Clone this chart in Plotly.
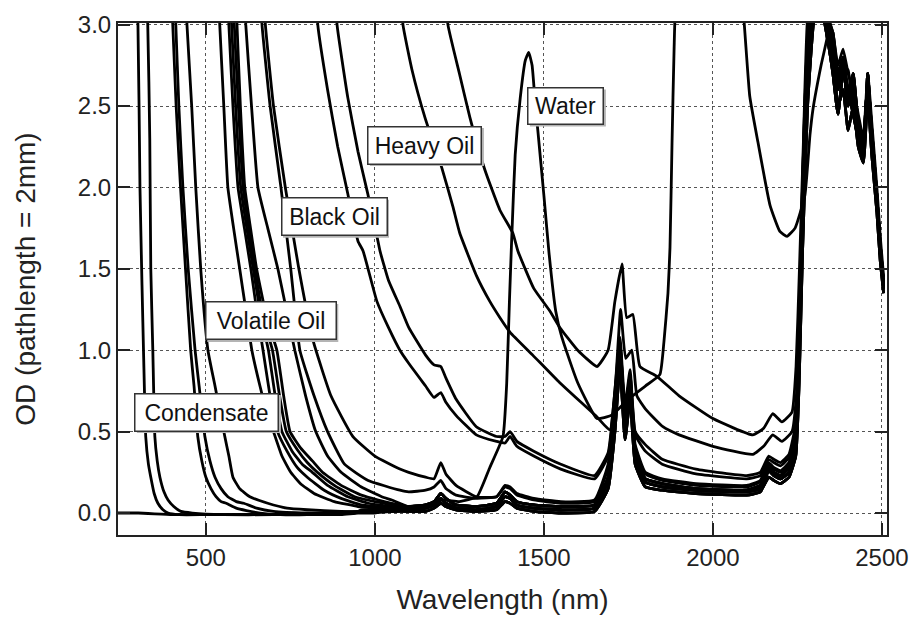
import plotly.graph_objects as go

# ---- spectra: wavelength (nm) and optical density (2 mm path) ----
# shared wavelength grid for the long-wavelength part of the light/medium oils
TAIL_WL = [1100, 1150, 1175, 1195, 1210, 1240, 1300, 1360, 1385, 1400,
           1420, 1470, 1550, 1650, 1690, 1710, 1725, 1740, 1755, 1770,
           1800, 1850, 1950, 2100, 2140, 2165, 2180, 2200, 2225, 2245,
           2255, 2265, 2280, 2300, 2320, 2340, 2355, 2370, 2385, 2400,
           2415, 2430, 2445, 2458, 2470, 2485, 2495, 2505]

LOW_A = [0.01, 0.01, 0.03, 0.06, 0.04, 0.02, 0.01, 0.02, 0.07, 0.06,
         0.03, 0.01, 0.0, 0.01, 0.15, 0.5, 0.9, 0.45, 0.7, 0.3,
         0.16, 0.14, 0.12, 0.11, 0.13, 0.22, 0.2, 0.18, 0.22, 0.35,
         0.8, 1.6, 2.5, 3.05, 3.15, 2.95, 2.8, 2.5, 2.6, 2.35,
         2.5, 2.25, 2.15, 2.55, 2.2, 1.85, 1.55, 1.35]
LOW_B = [0.02, 0.03, 0.05, 0.09, 0.06, 0.03, 0.02, 0.04, 0.10, 0.09,
         0.05, 0.03, 0.02, 0.03, 0.2, 0.6, 1.0, 0.5, 0.78, 0.35,
         0.19, 0.16, 0.14, 0.13, 0.15, 0.26, 0.23, 0.21, 0.25, 0.4,
         0.95, 1.8, 2.7, 3.1, 3.2, 3.05, 2.9, 2.6, 2.75, 2.5,
         2.7, 2.4, 2.3, 2.65, 2.35, 1.95, 1.65, 1.4]
LOW_C = [0.04, 0.05, 0.07, 0.12, 0.09, 0.05, 0.04, 0.06, 0.13, 0.11,
         0.07, 0.05, 0.04, 0.05, 0.22, 0.62, 1.02, 0.55, 0.8, 0.38,
         0.21, 0.18, 0.15, 0.14, 0.17, 0.28, 0.25, 0.23, 0.28, 0.45,
         1.0, 1.9, 2.8, 3.1, 3.1, 2.9, 2.7, 2.45, 2.7, 2.6,
         2.45, 2.3, 2.2, 2.7, 2.3, 1.9, 1.6, 1.38]
TAIL_V7 = [0.13, 0.14, 0.16, 0.2, 0.15, 0.11, 0.09, 0.1, 0.16, 0.15,
           0.11, 0.08, 0.06, 0.07, 0.28, 0.7, 1.05, 0.58, 0.82, 0.4,
           0.24, 0.2, 0.17, 0.16, 0.19, 0.3, 0.27, 0.25, 0.3, 0.48,
           1.05, 1.95, 2.85, 3.15, 3.25, 3.05, 2.95, 2.7, 2.8, 2.55,
           2.65, 2.4, 2.3, 2.6, 2.3, 1.95, 1.6, 1.4]
TAIL_V8 = [0.25, 0.22, 0.21, 0.31, 0.24, 0.17, 0.1, 0.1, 0.17, 0.16,
           0.12, 0.09, 0.07, 0.08, 0.3, 0.72, 1.05, 0.6, 0.85, 0.42,
           0.25, 0.21, 0.18, 0.17, 0.2, 0.31, 0.28, 0.26, 0.31, 0.5,
           1.1, 2.0, 2.9, 3.2, 3.2, 3.0, 2.85, 2.65, 2.75, 2.5,
           2.6, 2.35, 2.25, 2.65, 2.25, 1.9, 1.6, 1.38]
TAIL_B1 = [0.92, 0.78, 0.71, 0.74, 0.68, 0.6, 0.48, 0.44, 0.43, 0.47,
           0.41, 0.35, 0.27, 0.21, 0.35, 0.72, 1.02, 0.62, 0.85, 0.48,
           0.38, 0.3, 0.24, 0.21, 0.23, 0.33, 0.31, 0.29, 0.34, 0.52,
           1.05, 1.95, 2.85, 3.15, 3.2, 3.05, 2.9, 2.65, 2.75, 2.72,
           2.45, 2.35, 2.2, 2.68, 2.35, 1.95, 1.65, 1.4]
TAIL_B2 = [1.14, 0.97, 0.91, 0.9, 0.83, 0.7, 0.53, 0.47, 0.47, 0.5,
           0.44, 0.38, 0.3, 0.23, 0.37, 0.75, 1.08, 0.66, 0.88, 0.5,
           0.42, 0.33, 0.27, 0.23, 0.25, 0.35, 0.33, 0.31, 0.36, 0.55,
           1.1, 2.0, 2.9, 3.2, 3.25, 3.0, 2.95, 2.7, 2.8, 2.6,
           2.55, 2.4, 2.25, 2.6, 2.3, 1.9, 1.6, 1.38]

# short-wavelength (absorption edge) parts
C1_WL = [290, 299, 305, 311, 316, 322, 330, 337, 347, 358, 373, 388, 420, 500, 600, 700, 800, 900, 950, 1000, 1050]
C1_OD = [3.3, 3.0, 2.0, 1.4, 0.95, 0.47, 0.3, 0.22, 0.12, 0.06, 0.02, 0.0, -0.01, -0.01, -0.01, -0.01, -0.01, -0.01, 0.0, 0.0, 0.01]
C2_WL = [320, 328, 334, 337, 343, 349, 356, 364, 376, 388, 405, 426, 460, 550, 700, 850, 950, 1000, 1050]
C2_OD = [3.3, 3.0, 2.3, 1.5, 1.0, 0.47, 0.32, 0.22, 0.13, 0.08, 0.04, 0.01, 0.0, -0.01, -0.01, 0.0, 0.01, 0.01, 0.01]
C3_WL = [395, 402, 412, 425, 440, 455, 465, 476, 488, 500, 515, 530, 545, 560, 590, 620, 660, 720, 800, 900, 1000, 1050]
C3_OD = [3.3, 3.0, 2.5, 2.0, 1.49, 1.0, 0.78, 0.47, 0.32, 0.22, 0.15, 0.10, 0.07, 0.06, 0.03, 0.015, 0.0, -0.01, -0.01, 0.0, 0.01, 0.01]
C4_WL = [405, 411, 420, 432, 448, 468, 480, 497, 512, 527, 545, 565, 590, 612, 650, 700, 800, 900, 1000, 1050]
C4_OD = [3.3, 3.0, 2.5, 2.0, 1.49, 1.0, 0.78, 0.47, 0.32, 0.22, 0.15, 0.10, 0.07, 0.06, 0.03, 0.01, 0.0, 0.0, 0.01, 0.01]
C5_WL = [438, 444, 458, 470, 485, 506, 527, 556, 568, 580, 600, 630, 683, 740, 800, 900, 1000, 1050]
C5_OD = [3.3, 3.0, 2.5, 2.0, 1.49, 1.0, 0.78, 0.47, 0.35, 0.22, 0.15, 0.10, 0.06, 0.03, 0.02, 0.01, 0.01, 0.02]
V1_WL = [535, 541, 553, 565, 582, 600, 618, 636, 660, 680, 700, 725, 751, 780, 820, 880, 950, 1000, 1050]
V1_OD = [3.3, 3.0, 2.5, 2.0, 1.75, 1.5, 1.25, 1.0, 0.78, 0.62, 0.5, 0.35, 0.25, 0.18, 0.12, 0.07, 0.04, 0.03, 0.02]
V2_WL = [562, 568, 580, 595, 614, 633, 650, 669, 690, 712, 740, 770, 800, 850, 900, 960, 1000, 1050]
V2_OD = [3.3, 3.0, 2.5, 2.0, 1.75, 1.5, 1.25, 1.0, 0.72, 0.5, 0.38, 0.28, 0.22, 0.14, 0.09, 0.05, 0.04, 0.03]
V3_WL = [570, 576, 588, 603, 621, 640, 662, 685, 705, 725, 755, 785, 815, 860, 920, 980, 1050]
V3_OD = [3.3, 3.0, 2.5, 2.0, 1.75, 1.5, 1.22, 1.0, 0.72, 0.5, 0.38, 0.3, 0.25, 0.17, 0.1, 0.06, 0.04]
V4_WL = [578, 584, 596, 610, 627, 645, 670, 697, 718, 738, 770, 800, 830, 880, 940, 1000, 1050]
V4_OD = [3.3, 3.0, 2.5, 2.0, 1.75, 1.5, 1.2, 1.0, 0.72, 0.5, 0.39, 0.31, 0.25, 0.17, 0.1, 0.07, 0.05]
V5_WL = [586, 592, 602, 615, 632, 650, 680, 710, 730, 749, 780, 815, 845, 900, 960, 1010, 1050]
V5_OD = [3.3, 3.0, 2.5, 2.0, 1.75, 1.5, 1.2, 1.0, 0.72, 0.5, 0.4, 0.32, 0.25, 0.17, 0.11, 0.08, 0.06]
V6_WL = [612, 618, 635, 654, 683, 713, 738, 763, 795, 825, 860, 900, 960, 1020, 1050]
V6_OD = [3.3, 3.0, 2.5, 2.0, 1.75, 1.5, 1.25, 1.0, 0.72, 0.5, 0.35, 0.25, 0.16, 0.1, 0.08]
V7_WL = [660, 666, 690, 722, 751, 778, 820, 860, 910, 980, 1074]
V7_OD = [3.3, 3.0, 2.5, 2.0, 1.5, 1.0, 0.72, 0.5, 0.3, 0.2, 0.14]
V8_WL = [670, 676, 700, 735, 775, 817, 870, 935, 1000, 1074]
V8_OD = [3.3, 3.0, 2.5, 2.0, 1.5, 1.06, 0.72, 0.47, 0.35, 0.27]
B1_WL = [825, 831, 860, 890, 920, 950, 965, 1006, 1040, 1074]
B1_OD = [3.3, 3.0, 2.6, 2.25, 1.96, 1.67, 1.61, 1.30, 1.14, 1.0]
B2_WL = [882, 888, 920, 950, 979, 1009, 1015, 1040, 1074]
B2_OD = [3.3, 3.0, 2.55, 2.22, 1.96, 1.67, 1.61, 1.43, 1.27]

H1_WL = [1075, 1083, 1110, 1148, 1175, 1198, 1231, 1251, 1300, 1340,
         1370, 1400, 1467, 1547, 1657, 1695, 1712, 1727, 1742,
         1760, 1775, 1800, 1852, 1900, 2000, 2118, 2150, 2177, 2204,
         2234, 2248, 2258, 2270, 2285, 2300, 2320, 2340, 2355, 2370,
         2385, 2400, 2415, 2430, 2445, 2458, 2470, 2485, 2495, 2505]
H1_OD = [3.3, 3.0, 2.72, 2.43, 2.26, 2.12, 1.88, 1.72, 1.46, 1.30,
         1.20, 1.11, 0.97, 0.80, 0.59, 0.51, 0.8, 1.25, 0.95,
         1.0, 0.72, 0.64, 0.53, 0.48, 0.41, 0.36, 0.41, 0.48, 0.44,
         0.5, 0.75, 1.4, 2.4, 3.1, 3.2, 3.25, 3.05, 2.95, 2.75,
         2.85, 2.7, 2.6, 2.45, 2.3, 2.7, 2.4, 2.0, 1.7, 1.45]
H2_WL = [1208, 1216, 1250, 1281, 1325, 1370, 1408, 1423, 1470, 1518,
         1547, 1600, 1657, 1690, 1710, 1731, 1745, 1763, 1784, 1834,
         1900, 2000, 2118, 2150, 2177, 2204, 2234, 2246, 2256, 2268,
         2282, 2300, 2320, 2340, 2355, 2370, 2385, 2400, 2415, 2430,
         2445, 2458, 2470, 2485, 2495, 2505]
H2_OD = [3.3, 3.0, 2.7, 2.43, 2.11, 1.86, 1.72, 1.61, 1.38, 1.24,
         1.14, 1.0, 0.9, 1.0, 1.3, 1.53, 1.2, 1.22, 0.9, 0.84,
         0.72, 0.58, 0.48, 0.52, 0.61, 0.56, 0.62, 0.9, 1.5, 2.3,
         3.1, 3.2, 3.15, 3.0, 2.9, 2.65, 2.8, 2.6, 2.5, 2.35,
         2.25, 2.6, 2.3, 1.95, 1.65, 1.42]

WATER_WL = [240, 300, 400, 500, 600, 700, 800, 900, 940, 960,
            1000, 1100, 1150, 1200, 1250, 1302, 1340, 1379, 1390, 1398,
            1405, 1415, 1430, 1445, 1455, 1465, 1475, 1482, 1500, 1515,
            1535, 1553, 1600, 1657, 1700, 1750, 1800, 1843, 1855, 1867,
            1873, 1879, 1885, 1892, 1950, 2050, 2085, 2109, 2133, 2169,
            2198, 2219, 2243, 2272, 2287, 2296, 2320, 2337, 2350, 2400,
            2505]
WATER_OD = [0.0, 0.0, -0.01, -0.01, -0.01, -0.01, -0.01, 0.0, 0.0, 0.02,
            0.02, 0.03, 0.04, 0.08, 0.07, 0.10, 0.28, 0.47, 0.8, 1.3,
            1.7, 2.2, 2.55, 2.78, 2.83, 2.75, 2.5, 2.35, 1.95, 1.6,
            1.24, 1.08, 0.8, 0.58, 0.6, 0.7, 0.78, 0.85, 1.05, 1.35,
            1.63, 2.27, 2.84, 3.2, 3.6, 3.6, 3.2, 2.56, 2.28, 1.89,
            1.73, 1.70, 1.75, 1.95, 2.32, 2.48, 2.75, 2.91, 3.1, 3.4,
            3.4]

# which long-wavelength part each short-wavelength part continues into
SPECTRA = [
    (C1_WL, C1_OD, LOW_A), (C2_WL, C2_OD, LOW_B), (C3_WL, C3_OD, LOW_A),
    (C4_WL, C4_OD, LOW_B), (C5_WL, C5_OD, LOW_C),
    (V1_WL, V1_OD, LOW_A), (V2_WL, V2_OD, LOW_B), (V3_WL, V3_OD, LOW_C),
    (V4_WL, V4_OD, LOW_B), (V5_WL, V5_OD, LOW_C), (V6_WL, V6_OD, LOW_C),
    (V7_WL, V7_OD, TAIL_V7), (V8_WL, V8_OD, TAIL_V8),
    (B1_WL, B1_OD, TAIL_B1), (B2_WL, B2_OD, TAIL_B2),
]

LABELS = ["Water", "Heavy Oil", "Black Oil", "Volatile Oil", "Condensate"]
LABEL_X = [1565, 1148, 879, 692, 503]
LABEL_Y = [2.50, 2.26, 1.82, 1.18, 0.62]
# box sizes in pixels
LABEL_W = [72, 110, 102, 127, 140]
LABEL_H = [33, 34, 34, 34, 34]

FONT = "Liberation Sans, Arial, sans-serif"
LINE = dict(color="black", width=2.8, shape="spline", smoothing=0.4)

fig = go.Figure()
for wl, od, tail in SPECTRA:
    fig.add_trace(go.Scatter(x=wl + TAIL_WL, y=od + tail, mode="lines",
                             line=LINE, hoverinfo="skip"))
for wl, od in [(H1_WL, H1_OD), (H2_WL, H2_OD), (WATER_WL, WATER_OD)]:
    fig.add_trace(go.Scatter(x=wl, y=od, mode="lines", line=LINE, hoverinfo="skip"))

# boxed labels, each with a soft grey drop shadow drawn as a pixel-sized rectangle
for text, lx, ly, w, h in zip(LABELS, LABEL_X, LABEL_Y, LABEL_W, LABEL_H):
    bw, bh = w + 4, h + 4
    fig.add_shape(type="rect", xref="x", yref="y", xsizemode="pixel", ysizemode="pixel",
                  xanchor=lx, yanchor=ly,
                  x0=-bw / 2 + 2, x1=bw / 2 + 2, y0=-bh / 2 - 2, y1=bh / 2 - 2,
                  fillcolor="#b4b4b4", line=dict(width=0), layer="above")
    fig.add_annotation(x=lx, y=ly, text=text, showarrow=False, width=w, height=h,
                       font=dict(family=FONT, size=23, color="#111"),
                       bgcolor="white", bordercolor="#333", borderwidth=1.5, borderpad=1)

axis_common = dict(
    showline=True, linecolor="#222", linewidth=2, mirror="allticks",
    ticks="inside", ticklen=12, tickwidth=2, tickcolor="#222",
    showgrid=True, gridcolor="#555", gridwidth=1, griddash="dot",
    zeroline=False, automargin=False,
    tickfont=dict(family=FONT, size=24, color="#222"),
)
fig.update_xaxes(range=[240, 2515], tickvals=[500, 1000, 1500, 2000, 2500],
                 title=dict(text="Wavelength (nm)", font=dict(family=FONT, size=28, color="#222"),
                            standoff=20),
                 **axis_common)
fig.update_yaxes(range=[-0.135, 3.01], tickvals=[0.0, 0.5, 1.0, 1.5, 2.0, 2.5, 3.0],
                 tickformat=".1f",
                 title=dict(text="OD (pathlength = 2mm)", font=dict(family=FONT, size=28, color="#222"),
                            standoff=34),
                 **axis_common)
fig.update_layout(width=913, height=617, showlegend=False,
                  plot_bgcolor="white", paper_bgcolor="white",
                  margin=dict(l=118, r=26, t=23, b=82))
fig.write_html("out.html")
